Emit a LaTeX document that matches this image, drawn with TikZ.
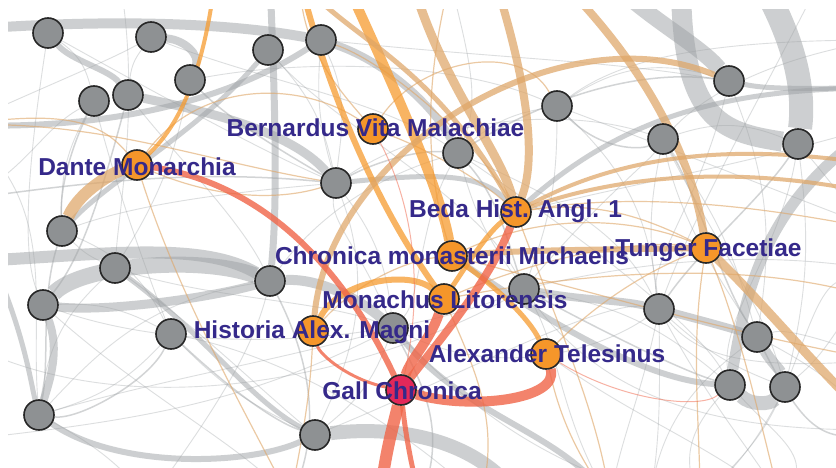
\documentclass[tikz,border=0pt]{standalone}
\usepackage{fontspec}
\setmainfont{Liberation Sans}
\usetikzlibrary{backgrounds}
\definecolor{nodegray}{HTML}{8E9193}
\definecolor{nodeorange}{HTML}{F5962A}
\definecolor{nodered}{HTML}{E2285A}
\definecolor{lblblue}{HTML}{35298A}
\definecolor{edgegray}{HTML}{9DA1A4}
\definecolor{edgetan}{HTML}{DFA667}
\definecolor{edgeorange}{HTML}{F69B30}
\definecolor{edgered}{HTML}{F06548}
\begin{document}
\begin{tikzpicture}[x=1pt,y=-1pt,
  gnode/.style={circle,draw=black!85,line width=1.6pt,fill=nodegray,minimum size=30pt,inner sep=0pt},
  onode/.style={gnode,fill=nodeorange},
  rnode/.style={gnode,fill=nodered},
  lbl/.style={text=lblblue,font=\fontsize{24.5}{25}\selectfont\bfseries,inner sep=0pt,anchor=base},
  gb/.style={draw=edgegray,opacity=.5},
  gt/.style={draw=edgegray,opacity=.45,line width=1.5pt},
  gl/.style={draw=edgegray,opacity=.35,line width=0.9pt},
  tb/.style={draw=edgetan,opacity=.72},
  tt/.style={draw=edgetan,opacity=.6,line width=1.2pt},
  ob/.style={draw=edgeorange,opacity=.75},
  rb/.style={draw=edgered,opacity=.8},
  rt/.style={draw=edgered,opacity=.5,line width=1pt}]
\useasboundingbox (0,0) rectangle (836,468);
% gray nodes
\node[gnode] (g1) at (48,33) {};
\node[gnode] (g2) at (151,37) {};
\node[gnode] (g3) at (268,50) {};
\node[gnode] (g4) at (321,40) {};
\node[gnode] (g5) at (190,80) {};
\node[gnode] (g6) at (94,101) {};
\node[gnode] (g7) at (128,95) {};
\node[gnode] (g8) at (557,106) {};
\node[gnode] (g9) at (458,153) {};
\node[gnode] (g10) at (336,183) {};
\node[gnode] (g11) at (663,139) {};
\node[gnode] (g12) at (729,81) {};
\node[gnode] (g13) at (798,144) {};
\node[gnode] (g14) at (62,231) {};
\node[gnode] (g15) at (115,268) {};
\node[gnode] (g16) at (43,305) {};
\node[gnode] (g17) at (270,281) {};
\node[gnode] (g18) at (171,334) {};
\node[gnode] (g19) at (393,328) {};
\node[gnode] (g20) at (524,289) {};
\node[gnode] (g21) at (659,309) {};
\node[gnode] (g22) at (757,337) {};
\node[gnode] (g23) at (730,385) {};
\node[gnode] (g24) at (785,387) {};
\node[gnode] (g25) at (39,415) {};
\node[gnode] (g26) at (315,435) {};
% coloured nodes
\node[onode] (bern) at (373,129) {};
\node[onode] (dante) at (137,165) {};
\node[onode] (beda) at (516,212) {};
\node[onode] (chron) at (452,256) {};
\node[onode] (mona) at (444,299) {};
\node[onode] (hist) at (313,331) {};
\node[onode] (alex) at (546,354) {};
\node[onode] (tung) at (706,248) {};
\node[rnode] (gall) at (401,390) {};
% labels
\node[lbl] (lbern) at (375.5,137) {Bernardus Vita Malachiae};
\node[lbl] (ldante) at (137,176) {Dante Monarchia};
\node[lbl] (lbeda) at (515.5,218) {Beda Hist. Angl. 1};
\node[lbl] (lchron) at (452,264) {Chronica monasterii Michaelis};
\node[lbl] (ltung) at (708.5,256) {Tunger Facetiae};
\node[lbl] (lmona) at (445,308) {Monachus Litorensis};
\node[lbl] (lhist) at (312,338) {Historia Alex. Magni};
\node[lbl] (lalex) at (547,362) {Alexander Telesinus};
\node[lbl] (lgall) at (402,399) {Gall Chronica};
\begin{pgfonlayer}{background}
\fill[white] (0,0) rectangle (836,468);
\begin{scope}
\clip (8,10) rectangle (836,468);
% off-picture end points
\coordinate (L1) at (-40,262);
\coordinate (L2) at (-40,30);
\coordinate (L3) at (-40,340);
\coordinate (L4) at (-40,200);
\coordinate (L5) at (-40,125);
\coordinate (L6) at (-40,440);
\coordinate (T1) at (215,-20);
\coordinate (T2) at (300,-20);
\coordinate (T3) at (345,-20);
\coordinate (T4) at (412,-20);
\coordinate (T5) at (495,-20);
\coordinate (T6) at (560,-20);
\coordinate (T7) at (610,-20);
\coordinate (T8) at (681,-20);
\coordinate (T9) at (760,-20);
\coordinate (T10) at (270,-20);
\coordinate (T11) at (120,-20);
\coordinate (T12) at (450,-20);
\coordinate (T13) at (820,-20);
\coordinate (R1) at (880,88);
\coordinate (R2) at (880,165);
\coordinate (R3) at (880,195);
\coordinate (R4) at (880,230);
\coordinate (R5) at (880,430);
\coordinate (R6) at (880,300);
\coordinate (R7) at (880,125);
\coordinate (R8) at (880,360);
\coordinate (R9) at (880,40);
\coordinate (R10) at (880,270);
\coordinate (B1) at (380,500);
\coordinate (B2) at (520,500);
\coordinate (B3) at (290,500);
\coordinate (B4) at (610,500);
\coordinate (B5) at (150,500);
\coordinate (B6) at (700,500);
\coordinate (B7) at (420,500);
\coordinate (B8) at (780,500);
\coordinate (B9) at (480,500);
\coordinate (B10) at (650,500);
% thin gray texture
\draw[gl] (g1) to[bend left=20] (g6);
\draw[gl] (g1) .. controls (150,90) and (260,150) .. (g10);
\draw[gl] (g2) to[bend right=15] (g7);
\draw[gl] (g2) .. controls (260,80) and (380,100) .. (g9);
\draw[gl] (g3) to[bend left=15] (g10);
\draw[gl] (g4) to[bend right=10] (g10);
\draw[gl] (g5) to[bend left=10] (g15);
\draw[gl] (g6) to[bend right=15] (g14);
\draw[gl] (g6) .. controls (120,200) and (150,280) .. (g18);
\draw[gl] (g7) .. controls (180,160) and (240,220) .. (g17);
\draw[gl] (g8) to[bend right=15] (g9);
\draw[gl] (g8) to[bend left=10] (g20);
\draw[gl] (g8) to[bend left=20] (g21);
\draw[gl] (g8) to[bend left=25] (g12);
\draw[gl] (g9) to[bend right=10] (g20);
\draw[gl] (g10) to[bend left=15] (g19);
\draw[gl] (g10) .. controls (450,110) and (580,110) .. (g11);
\draw[gl] (g11) to[bend right=10] (g21);
\draw[gl] (g11) to[bend left=10] (g22);
\draw[gl] (g11) to[bend left=20] (g13);
\draw[gl] (g12) to[bend left=15] (g22);
\draw[gl] (g13) to[bend left=10] (g24);
\draw[gl] (g14) to[bend right=10] (g15);
\draw[gl] (g14) to[bend left=20] (g18);
\draw[gl] (g15) to[bend right=20] (g25);
\draw[gl] (g15) .. controls (220,300) and (320,300) .. (g19);
\draw[gl] (g16) to[bend left=15] (g18);
\draw[gl] (g18) to[bend right=10] (g26);
\draw[gl] (g18) to[bend left=15] (g25);
\draw[gl] (g19) to[bend left=15] (g26);
\draw[gl] (g20) to[bend left=15] (g23);
\draw[gl] (g21) to[bend right=10] (g24);
\draw[gl] (g22) to[bend left=10] (R5);
\draw[gl] (g24) to[bend left=10] (B6);
\draw[gl] (g25) to[bend left=10] (B5);
\draw[gl] (g17) .. controls (330,200) and (400,170) .. (g9);
\draw[gl] (g19) .. controls (500,380) and (600,350) .. (g21);
\draw[gl] (g14) .. controls (150,200) and (260,190) .. (g10);
\draw[gl] (L3) .. controls (150,440) and (400,360) .. (g20);
\draw[gl] (g25) .. controls (160,380) and (280,360) .. (g19);
\draw[gl] (g16) .. controls (200,360) and (400,340) .. (g20);
\draw[gl] (g9) .. controls (600,250) and (700,330) .. (g23);
\draw[gl] (g12) .. controls (700,200) and (650,260) .. (g21);
\draw[gl] (g13) .. controls (780,250) and (720,320) .. (g23);
\draw[gl] (g20) .. controls (620,420) and (760,430) .. (R5);
\draw[gl] (g26) .. controls (450,380) and (600,300) .. (g21);
\draw[gl] (g10) .. controls (380,300) and (340,380) .. (g26);
\draw[gl] (g8) .. controls (700,160) and (800,200) .. (R4);
\draw[gl] (g5) .. controls (300,60) and (450,60) .. (g8);
\draw[gl] (g24) .. controls (820,300) and (830,250) .. (R6);
\draw[gl] (g21) .. controls (640,400) and (620,440) .. (B4);
\draw[gl] (g23) .. controls (690,430) and (680,460) .. (B6);
\draw[gl] (L5) .. controls (60,200) and (30,300) .. (g25);
\draw[gl] (g3) .. controls (330,120) and (480,200) .. (g20);
\draw[gl] (g1) .. controls (30,150) and (20,250) .. (g16);
\draw[gl] (T11) .. controls (140,100) and (120,200) .. (g15);
\draw[gl] (T12) .. controls (470,60) and (480,100) .. (g9);
\draw[gl] (T13) .. controls (760,100) and (700,200) .. (g21);
\draw[gl] (R9) .. controls (760,60) and (700,100) .. (g11);
\draw[gl] (R7) .. controls (760,160) and (700,170) .. (beda);
\draw[gl] (R8) .. controls (800,330) and (780,330) .. (g22);
\draw[gl] (g12) .. controls (600,60) and (520,60) .. (g4);
\draw[gl] (g11) .. controls (720,250) and (760,300) .. (g24);
\draw[gl] (g9) .. controls (560,200) and (620,230) .. (g21);
\draw[gl] (g20) .. controls (600,200) and (650,160) .. (g11);
\draw[gl] (g21) .. controls (720,420) and (760,460) .. (B8);
\draw[gl] (g22) .. controls (720,280) and (680,220) .. (g11);
\draw[gl] (g26) .. controls (250,380) and (200,330) .. (g15);
\draw[gl] (L6) .. controls (150,420) and (250,400) .. (g19);
\draw[gl] (g25) .. controls (100,350) and (150,300) .. (g17);
\draw[gl] (g16) .. controls (150,400) and (250,450) .. (B3);
\draw[gl] (g18) .. controls (300,360) and (420,440) .. (B9);
\draw[gl] (g17) .. controls (250,360) and (200,430) .. (B5);
\draw[gl] (g19) .. controls (360,250) and (330,220) .. (g10);
\draw[gl] (g8) .. controls (620,60) and (700,40) .. (R9);
\draw[gl] (g13) .. controls (830,180) and (840,200) .. (R4);
\draw[gl] (g24) .. controls (760,440) and (740,460) .. (B6);
\draw[gl] (g23) .. controls (780,440) and (820,460) .. (B8);
\draw[gl] (g20) .. controls (560,350) and (560,420) .. (B4);
\draw[gl] (g9) .. controls (420,220) and (420,300) .. (g19);
\draw[gl] (g6) .. controls (40,130) and (20,180) .. (L4);
\draw[gl] (g2) .. controls (110,60) and (60,80) .. (L5);
\draw[gl] (g4) .. controls (350,100) and (340,140) .. (g10);
\draw[gl] (g21) .. controls (700,360) and (760,370) .. (R8);
\draw[gl] (g21) .. controls (660,400) and (660,440) .. (B10);
\draw[gl] (g22) .. controls (700,380) and (660,420) .. (B10);
\draw[gl] (alex) .. controls (640,420) and (700,440) .. (B8);
\draw[gl] (g20) .. controls (650,260) and (760,250) .. (R10);
\draw[gl] (g24) .. controls (830,350) and (840,320) .. (R10);
\draw[gl] (g19) .. controls (520,460) and (600,470) .. (B10);
% medium gray
\draw[gt] (g7) .. controls (100,200) and (80,260) .. (g16);
\draw[gt] (g6) .. controls (70,150) and (60,190) .. (g14);
\draw[gt] (g10) .. controls (380,160) and (420,150) .. (g9);
\draw[gt] (g9) .. controls (500,200) and (510,250) .. (g20);
\draw[gt] (g18) .. controls (220,380) and (270,420) .. (g26);
\draw[gt] (g17) .. controls (300,340) and (330,420) .. (B3);
\draw[gt] (g14) .. controls (40,300) and (50,360) .. (g25);
\draw[gt] (g21) .. controls (700,250) and (760,200) .. (g13);
\draw[gt] (g20) .. controls (600,330) and (680,370) .. (g23);
\draw[gt] (L4) .. controls (100,180) and (200,170) .. (g10);
\draw[gt] (g19) .. controls (420,380) and (450,430) .. (B7);
\draw[gt] (g22) .. controls (800,420) and (820,450) .. (R5);
\draw[gt] (g18) .. controls (150,380) and (80,420) .. (g25);
\draw[gt] (g8) .. controls (600,150) and (640,150) .. (g11);
\draw[gt] (g11) .. controls (700,200) and (720,280) .. (g22);
\draw[gt] (g5) .. controls (230,120) and (280,150) .. (g10);
\draw[gt] (g9) .. controls (560,90) and (650,70) .. (g12);
% thick gray bands
\draw[gb,line width=10pt] (L2) .. controls (60,22) and (200,18) .. (g4);
\draw[gb,line width=8pt] (g2) .. controls (185,40) and (200,55) .. (g5);
\draw[gb,line width=6pt] (g1) .. controls (70,60) and (110,70) .. (g7);
\draw[gb,line width=9pt] (g7) .. controls (200,110) and (290,130) .. (g10);
\draw[gb,line width=6pt] (L5) .. controls (100,130) and (220,105) .. (g4);
\draw[gb,line width=8pt] (g4) .. controls (380,60) and (430,100) .. (g9);
\draw[gb,line width=7pt] (T10) .. controls (275,100) and (278,200) .. (g17);
\draw[gb,line width=5pt] (g10) .. controls (420,175) and (480,170) .. (beda);
\draw[gb,line width=20pt] (T8) .. controls (681,120) and (720,132) .. (g13);
\draw[gb,line width=24pt] (T9) .. controls (795,40) and (805,90) .. (g13);
\draw[gb,line width=16pt] (T7) .. controls (650,20) and (700,45) .. (g12);
\draw[gb,line width=5pt] (g12) .. controls (770,90) and (810,88) .. (R1);
\draw[gb,line width=5pt] (beda) .. controls (620,120) and (720,88) .. (R1);
\draw[gb,line width=11pt] (R7) .. controls (760,200) and (745,300) .. (g23);
\draw[gb,line width=11pt] (g22) .. controls (770,360) and (780,370) .. (g24);
\draw[gb,line width=14pt] (g23) .. controls (750,405) and (770,405) .. (g24);
\draw[gb,line width=8pt] (g20) .. controls (580,300) and (620,300) .. (g21);
\draw[gb,line width=8pt] (g21) .. controls (700,320) and (730,328) .. (g22);
\draw[gb,line width=6pt] (chron) .. controls (560,330) and (650,380) .. (g23);
\draw[gb,line width=12pt] (L1) .. controls (100,255) and (200,240) .. (g17);
\draw[gb,line width=16pt] (g16) .. controls (80,265) and (200,255) .. (g17);
\draw[gb,line width=9pt] (g16) .. controls (100,312) and (200,300) .. (g17);
\draw[gb,line width=10pt] (g17) .. controls (320,278) and (360,300) .. (g19);
\draw[gb,line width=8pt] (g16) .. controls (60,350) and (50,380) .. (g25);
\draw[gb,line width=5pt] (L4) .. controls (20,300) and (30,380) .. (g25);
\draw[gb,line width=14pt] (g26) .. controls (400,425) and (480,440) .. (B2);
\draw[gb,line width=6pt] (g25) .. controls (120,470) and (250,465) .. (g26);
\draw[gb,line width=6pt] (g19) .. controls (470,420) and (560,430) .. (B4);
\draw[gb,line width=5pt] (g15) .. controls (200,330) and (250,400) .. (g26);
\draw[gb,line width=5pt] (g14) .. controls (110,180) and (200,130) .. (g3);
% tan and orange bands
\draw[tt] (L5) .. controls (100,120) and (200,160) .. (g10);
\draw[tt] (dante) .. controls (220,200) and (280,200) .. (g10);
\draw[tt] (dante) .. controls (200,80) and (300,80) .. (bern);
\draw[tt] (bern) .. controls (430,150) and (480,180) .. (beda);
\draw[tt] (beda) .. controls (600,200) and (650,220) .. (tung);
\draw[tt] (chron) .. controls (550,210) and (640,220) .. (tung);
\draw[tt] (mona) .. controls (560,250) and (650,240) .. (tung);
\draw[tt] (hist) .. controls (360,280) and (410,260) .. (chron);
\draw[tt] (alex) .. controls (600,300) and (650,270) .. (tung);
\draw[tt] (tung) .. controls (690,350) and (700,420) .. (B6);
\draw[tt] (beda) .. controls (560,330) and (600,420) .. (B4);
\draw[tt] (hist) .. controls (310,400) and (300,450) .. (B3);
\draw[tt] (dante) .. controls (180,300) and (250,420) .. (B3);
\draw[tt] (alex) .. controls (560,420) and (580,460) .. (B4);
\draw[tt] (bern) .. controls (420,60) and (520,40) .. (g8);
\draw[tt] (beda) .. controls (650,190) and (780,210) .. (R4);
\draw[tt] (mona) .. controls (600,270) and (760,260) .. (R6);
\draw[tt] (tung) .. controls (740,330) and (760,420) .. (B8);
\draw[tt] (chron) .. controls (620,300) and (760,340) .. (R8);
\draw[tt] (bern) .. controls (330,80) and (300,40) .. (T2);
\draw[tt] (chron) .. controls (420,150) and (430,60) .. (T12);
\draw[tt] (beda) .. controls (470,130) and (380,60) .. (g4);
\draw[tt] (dante) .. controls (100,120) and (60,110) .. (L5);
\draw[tt] (mona) .. controls (480,380) and (500,430) .. (B9);
\draw[tb,line width=12pt] (g14) .. controls (80,190) and (115,172) .. (dante);
\draw[ob,line width=4pt] (dante) .. controls (185,120) and (205,60) .. (T1);
\draw[ob,line width=10pt] (T3) .. controls (400,100) and (440,190) .. (chron);
\draw[ob,line width=6pt] (T2) .. controls (330,100) and (380,210) .. (mona);
\draw[tb,line width=9pt] (T4) .. controls (440,80) and (500,150) .. (beda);
\draw[tb,line width=8pt] (T5) .. controls (520,60) and (540,150) .. (beda);
\draw[tb,line width=6pt] (hist) .. controls (330,150) and (560,10) .. (g12);
\draw[tb,line width=8pt] (T6) .. controls (640,60) and (690,150) .. (tung);
\draw[tb,line width=9pt] (tung) .. controls (760,300) and (800,350) .. (R5);
\draw[tb,line width=4pt] (beda) .. controls (650,140) and (780,150) .. (R2);
\draw[tb,line width=4pt] (beda) .. controls (650,165) and (780,172) .. (R3);
\draw[tb,line width=5pt] (T2) .. controls (350,40) and (430,60) .. (beda);
\draw[ob,line width=6pt] (hist) .. controls (340,280) and (410,270) .. (mona);
\draw[ob,line width=5pt] (mona) .. controls (470,260) and (490,230) .. (beda);
\draw[ob,line width=5pt] (chron) .. controls (500,290) and (530,320) .. (alex);
\draw[tb,line width=6pt] (chron) .. controls (520,250) and (580,250) .. (tung);
% red bands
\draw[rt] (bern) .. controls (400,180) and (430,260) .. (gall);
\draw[rt] (alex) .. controls (620,400) and (700,410) .. (g23);
\draw[rb,line width=6pt] (dante) .. controls (240,180) and (330,240) .. (gall);
\draw[rb,line width=10pt] (gall) .. controls (470,410) and (560,400) .. (alex);
\draw[rb,line width=8pt] (beda) .. controls (490,280) and (440,340) .. (gall);
\draw[rb,line width=10pt] (mona) .. controls (430,340) and (410,360) .. (gall);
\draw[rb,line width=12pt] (gall) .. controls (395,420) and (385,450) .. (B1);
\draw[rb,line width=5pt] (gall) .. controls (405,430) and (410,460) .. (B7);
\draw[rb,line width=3pt] (gall) .. controls (350,380) and (320,355) .. (hist);
\end{scope}
\end{pgfonlayer}
\end{tikzpicture}
\end{document}
